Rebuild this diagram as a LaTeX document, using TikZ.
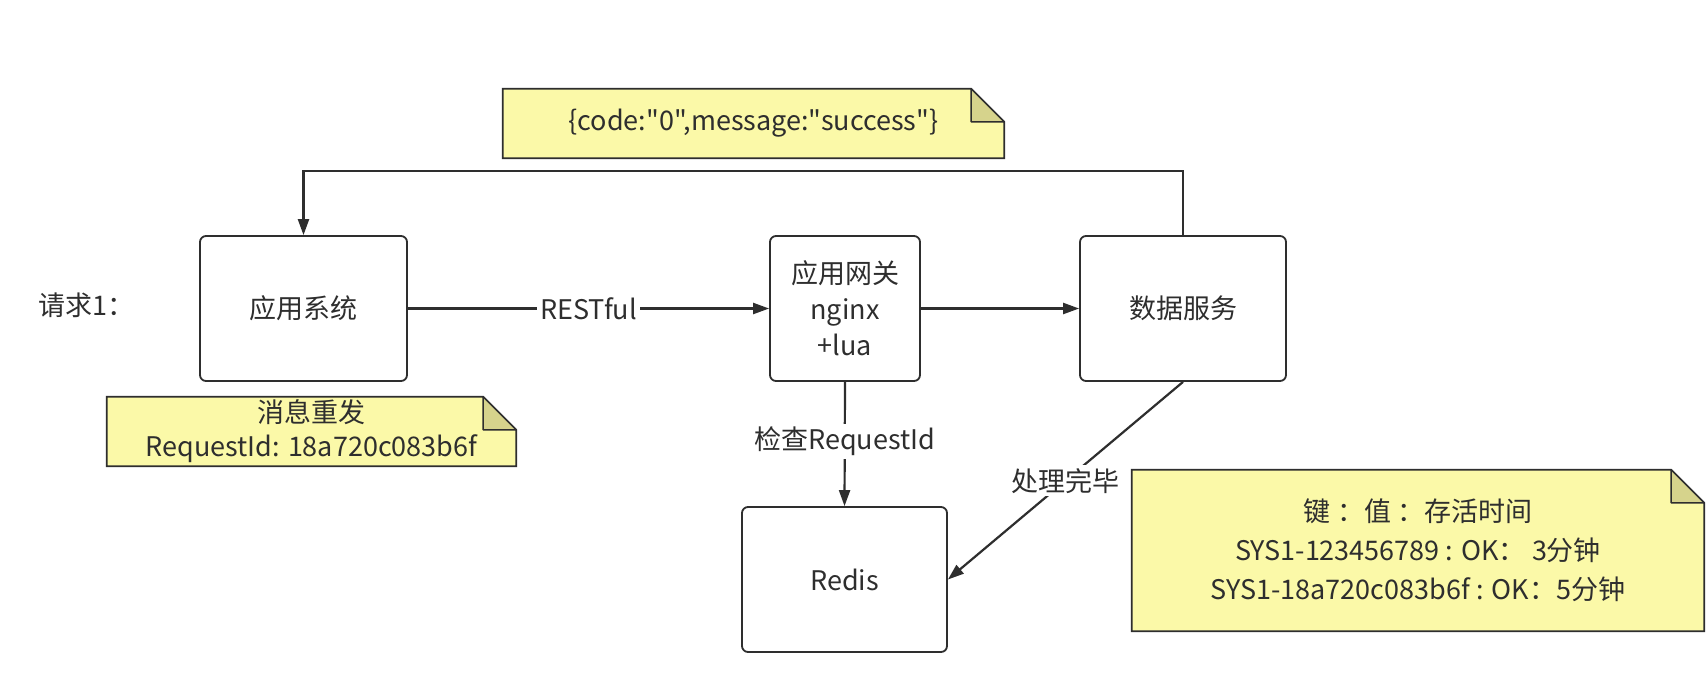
\documentclass[tikz,border=0pt]{standalone}
\usepackage{fontspec}
\setmainfont{Noto Sans CJK SC}[Ligatures=TeXOff]
\usetikzlibrary{arrows.meta,backgrounds}
\definecolor{ink}{HTML}{2E2E2E}
\definecolor{notefill}{HTML}{FBF9A8}
\definecolor{foldfill}{HTML}{D6D38C}
\newcommand\foldnote[2]{%
  \begin{scope}[on background layer]
    \draw[ink, line width=1.8pt, fill=notefill, line join=miter]
      (#1.north west) -- ([xshift=-#2]#1.north east) -- ([yshift=-#2]#1.north east)
      -- (#1.south east) -- (#1.south west) -- cycle;
    \draw[ink, line width=1.5pt, fill=foldfill, line join=round]
      ([xshift=-#2]#1.north east) -- ([xshift=-#2,yshift=-#2]#1.north east)
      -- ([yshift=-#2]#1.north east) -- cycle;
  \end{scope}}
\begin{document}
\begin{tikzpicture}[x=1pt,y=-1pt,
  font=\fontsize{27}{36}\selectfont,
  box/.style={draw=ink, line width=1.8pt, rounded corners=6pt, align=center,
    text=ink, inner sep=0pt},
  notebase/.style={align=center, inner sep=0pt, text=ink},
  conn/.style={draw=ink, line width=2.2pt, -{Triangle[length=16pt,width=11pt]}},
  lbl/.style={fill=white, text=ink, inner sep=3pt}]
\useasboundingbox (0,0) rectangle (1707,689);
\begin{scope}[on background layer]
  \fill[white] (0,0) rectangle (1707,689);
\end{scope}

% notes
\node[notebase, minimum width=501pt, minimum height=69pt] (resp) at (753.5,123.5)
  {\{code:"0",message:"success"\}};
\foldnote{resp}{33pt}
\node[notebase, minimum width=409pt, minimum height=69pt,
  font=\fontsize{27}{34}\selectfont] (resend) at (311.5,431.5)
  {消息重发\\RequestId: 18a720c083b6f};
\foldnote{resend}{33pt}
\node[notebase, minimum width=572pt, minimum height=161pt,
  font=\fontsize{27}{39}\selectfont] (kv) at (1418,550.5)
  {键 ：值 ：存活时间\\SYS1-123456789 : OK： 3分钟\\SYS1-18a720c083b6f : OK：5分钟};
\foldnote{kv}{33pt}

% label
\node[text=ink, anchor=west, inner sep=0pt] (req) at (38,305) {请求1：};

% boxes
\node[box, minimum width=207pt, minimum height=145pt] (app) at (303.5,308.5) {应用系统};
\node[box, minimum width=150pt, minimum height=145pt] (gw) at (845,308.5)
  {应用网关\\nginx\\+lua};
\node[box, minimum width=206pt, minimum height=145pt] (data) at (1183,308.5) {数据服务};
\node[box, minimum width=205pt, minimum height=145pt] (redis) at (844.5,579.5) {Redis};

% connectors
\coordinate (topy) at (0,171);
\draw[conn] (app.east) -- node[lbl] {RESTful} (gw.west);
\draw[conn] (gw.east) -- (data.west);
\draw[conn] (gw.south) -- node[lbl, pos=0.48] {检查RequestId} (redis.north);
\draw[conn] (data.north) -- (data.north |- topy) -- (app.north |- topy) -- (app.north);
\draw[conn] (data.south) -- node[lbl] {处理完毕} (redis.east);
\end{tikzpicture}
\end{document}
